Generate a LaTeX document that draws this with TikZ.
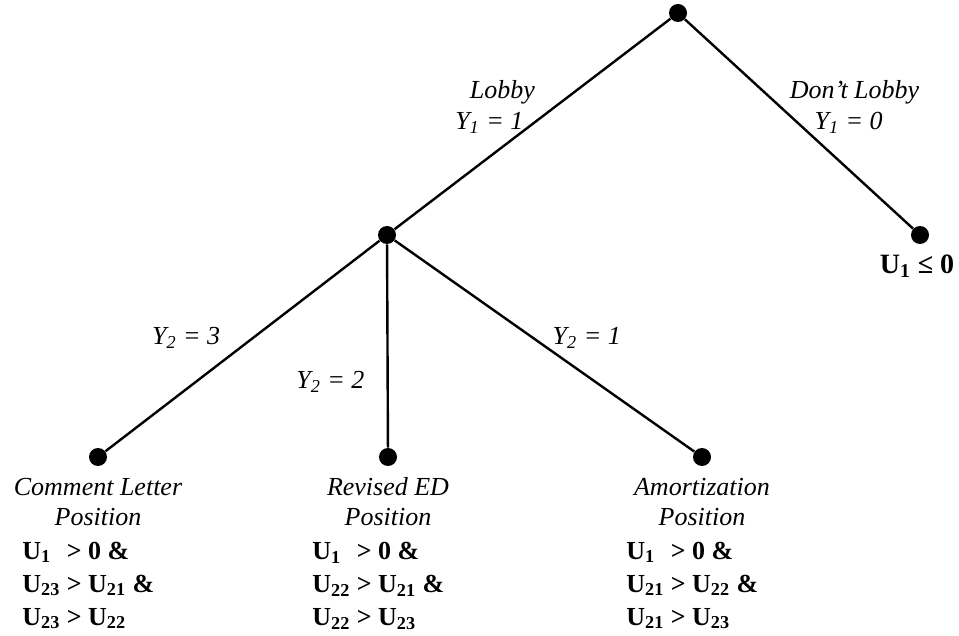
\documentclass[tikz,border=0pt]{standalone}
\usepackage{fontspec}
\setmainfont{Liberation Serif}
\usetikzlibrary{positioning}
\tikzset{
  branch/.style={draw=black, line width=1.2pt},
  dotnode/.style={circle, fill=black, inner sep=0pt, minimum size=9pt},
  edgelabel/.style={font=\fontsize{13}{15.5}\selectfont\itshape, align=center, inner sep=2pt},
  leaftitle/.style={font=\fontsize{13}{15}\selectfont\itshape, align=center, inner sep=1pt},
  condbox/.style={font=\fontsize{13}{16.5}\selectfont\bfseries, inner sep=0pt},
  payoff/.style={font=\fontsize{14}{16}\selectfont\bfseries, inner sep=0pt}
}

\begin{document}
\begin{tikzpicture}[x=0.5pt, y=-0.5pt]
  \useasboundingbox (0,0) rectangle (959,636);

  % Decision points
  \node[dotnode] (root) at (678,13) {};
  \node[dotnode] (lobby) at (387,235) {};
  \node[dotnode] (nolobby) at (920,235) {};

  % Position leaves
  \node[dotnode] (leafA) at (98,457) {};
  \node[dotnode] (leafB) at (388,457) {};
  \node[dotnode] (leafC) at (702,457) {};

  % First stage
  \draw[branch] (root) -- node[edgelabel, pos=0.42, left=0pt] {Lobby\\Y\textsubscript{1} = 1\hspace*{13pt}} (lobby);
  \draw[branch] (root) -- node[edgelabel, pos=0.42, right=2pt] {Don't Lobby\\Y\textsubscript{1} = 0\hspace*{6pt}} (nolobby);
  \node[payoff, below=5pt of nolobby, xshift=-1.5pt] (payR) {U\textsubscript{1} ≤ 0};

  % Second stage
  \draw[branch] (lobby) -- node[edgelabel, pos=0.46, left=14pt] {Y\textsubscript{2} = 3} (leafA);
  \draw[branch] (lobby) -- node[edgelabel, pos=0.675, left=9pt] {Y\textsubscript{2} = 2} (leafB);
  \draw[branch] (lobby) -- node[edgelabel, pos=0.46, right=7.5pt] {Y\textsubscript{2} = 1} (leafC);

  % Leaf texts
  \node[leaftitle, below=4.5pt of leafA] (ttlA) {Comment Letter\\Position};
  \node[condbox, below=4pt of ttlA, anchor=north west, xshift=-38pt] (condA) {%
    \begin{tabular}{@{}l@{\ }l@{}}
      U\textsubscript{1} & > 0 \&\\
      U\textsubscript{23} & > U\textsubscript{21} \&\\
      U\textsubscript{23} & > U\textsubscript{22}
    \end{tabular}};

  \node[leaftitle, below=4.5pt of leafB] (ttlB) {Revised ED\\Position};
  \node[condbox, below=4pt of ttlB, anchor=north west, xshift=-38pt] (condB) {%
    \begin{tabular}{@{}l@{\ }l@{}}
      U\textsubscript{1} & > 0 \&\\
      U\textsubscript{22} & > U\textsubscript{21} \&\\
      U\textsubscript{22} & > U\textsubscript{23}
    \end{tabular}};

  \node[leaftitle, below=4.5pt of leafC] (ttlC) {Amortization\\Position};
  \node[condbox, below=4pt of ttlC, anchor=north west, xshift=-38pt] (condC) {%
    \begin{tabular}{@{}l@{\ }l@{}}
      U\textsubscript{1} & > 0 \&\\
      U\textsubscript{21} & > U\textsubscript{22} \&\\
      U\textsubscript{21} & > U\textsubscript{23}
    \end{tabular}};
\end{tikzpicture}
\end{document}
